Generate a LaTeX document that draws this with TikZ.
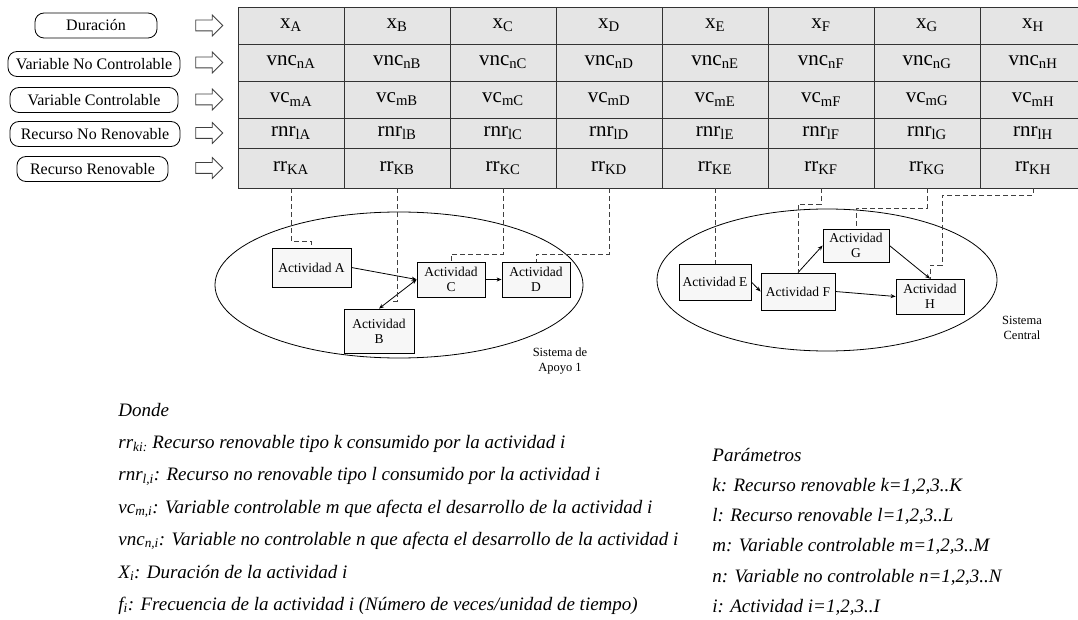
\documentclass[tikz,border=0pt]{standalone}
\usepackage{fontspec}
\setmainfont{Liberation Serif}
\usetikzlibrary{shapes.arrows,arrows.meta}
\tikzstyle{celda}=[draw=black!80, fill=gray!20, minimum width=106pt, minimum height=37pt, inner sep=0pt, font=\fontsize{21}{24}\selectfont]
\tikzstyle{etiqueta}=[draw, rounded corners=9pt, minimum height=25pt, inner sep=0pt, font=\fontsize{16}{18}\selectfont]
\tikzstyle{bloque}=[single arrow, draw=black!75, fill=white, minimum height=27pt, inner xsep=0pt, inner ysep=5pt, single arrow head extend=5pt]
\tikzstyle{actividad}=[draw, fill=gray!6, inner sep=0pt, align=center, font=\fontsize{13.5}{15}\selectfont]
\tikzstyle{enlace}=[draw=black!75, dash pattern=on 5pt off 3pt]
\tikzstyle{flujo}=[-{Stealth[length=5pt,width=4pt]}]
\tikzstyle{texto}=[anchor=base west, inner sep=0pt, font=\fontsize{19}{21}\selectfont\itshape]

\begin{document}
\begin{tikzpicture}[x=1pt, y=-1pt, line width=0.8pt]
\useasboundingbox (0,0) rectangle (1078,620);
% Etiquetas
    \node[etiqueta, minimum width=122pt] (lDur) at (96, 25.5) {Duración};
    \node[etiqueta, minimum width=172pt] (lVnc) at (94, 64) {Variable No Controlable};
    \node[etiqueta, minimum width=168pt] (lVc) at (94, 100) {Variable Controlable};
    \node[etiqueta, minimum width=170pt] (lRnr) at (95, 134) {Recurso No Renovable};
    \node[etiqueta, minimum width=151pt] (lRr) at (92.5, 169) {Recurso Renovable};
    \node[bloque] (fDur) at (206.5, 25.5) {};
    \node[bloque] (fVnc) at (206.5, 62.5) {};
    \node[bloque] (fVc) at (206.5, 99.5) {};
    \node[bloque] (fRnr) at (206.5, 133) {};
    \node[bloque] (fRr) at (206.5, 168) {};
% Tabla
    \node[celda] (xA) at (291, 25.5) {x\textsubscript{A}};
    \node[celda] (xB) at (397, 25.5) {x\textsubscript{B}};
    \node[celda] (xC) at (503, 25.5) {x\textsubscript{C}};
    \node[celda] (xD) at (609, 25.5) {x\textsubscript{D}};
    \node[celda] (xE) at (715, 25.5) {x\textsubscript{E}};
    \node[celda] (xF) at (821, 25.5) {x\textsubscript{F}};
    \node[celda] (xG) at (927, 25.5) {x\textsubscript{G}};
    \node[celda] (xH) at (1033, 25.5) {x\textsubscript{H}};
    \node[celda] (vncA) at (291, 62.5) {vnc\textsubscript{nA}};
    \node[celda] (vncB) at (397, 62.5) {vnc\textsubscript{nB}};
    \node[celda] (vncC) at (503, 62.5) {vnc\textsubscript{nC}};
    \node[celda] (vncD) at (609, 62.5) {vnc\textsubscript{nD}};
    \node[celda] (vncE) at (715, 62.5) {vnc\textsubscript{nE}};
    \node[celda] (vncF) at (821, 62.5) {vnc\textsubscript{nF}};
    \node[celda] (vncG) at (927, 62.5) {vnc\textsubscript{nG}};
    \node[celda] (vncH) at (1033, 62.5) {vnc\textsubscript{nH}};
    \node[celda] (vcA) at (291, 99.5) {vc\textsubscript{mA}};
    \node[celda] (vcB) at (397, 99.5) {vc\textsubscript{mB}};
    \node[celda] (vcC) at (503, 99.5) {vc\textsubscript{mC}};
    \node[celda] (vcD) at (609, 99.5) {vc\textsubscript{mD}};
    \node[celda] (vcE) at (715, 99.5) {vc\textsubscript{mE}};
    \node[celda] (vcF) at (821, 99.5) {vc\textsubscript{mF}};
    \node[celda] (vcG) at (927, 99.5) {vc\textsubscript{mG}};
    \node[celda] (vcH) at (1033, 99.5) {vc\textsubscript{mH}};
    \node[celda, minimum height=30pt] (rnrA) at (291, 133) {rnr\textsubscript{lA}};
    \node[celda, minimum height=30pt] (rnrB) at (397, 133) {rnr\textsubscript{lB}};
    \node[celda, minimum height=30pt] (rnrC) at (503, 133) {rnr\textsubscript{lC}};
    \node[celda, minimum height=30pt] (rnrD) at (609, 133) {rnr\textsubscript{lD}};
    \node[celda, minimum height=30pt] (rnrE) at (715, 133) {rnr\textsubscript{lE}};
    \node[celda, minimum height=30pt] (rnrF) at (821, 133) {rnr\textsubscript{lF}};
    \node[celda, minimum height=30pt] (rnrG) at (927, 133) {rnr\textsubscript{lG}};
    \node[celda, minimum height=30pt] (rnrH) at (1033, 133) {rnr\textsubscript{lH}};
    \node[celda, minimum height=40pt] (rrA) at (291, 168) {rr\textsubscript{KA}};
    \node[celda, minimum height=40pt] (rrB) at (397, 168) {rr\textsubscript{KB}};
    \node[celda, minimum height=40pt] (rrC) at (503, 168) {rr\textsubscript{KC}};
    \node[celda, minimum height=40pt] (rrD) at (609, 168) {rr\textsubscript{KD}};
    \node[celda, minimum height=40pt] (rrE) at (715, 168) {rr\textsubscript{KE}};
    \node[celda, minimum height=40pt] (rrF) at (821, 168) {rr\textsubscript{KF}};
    \node[celda, minimum height=40pt] (rrG) at (927, 168) {rr\textsubscript{KG}};
    \node[celda, minimum height=40pt] (rrH) at (1033, 168) {rr\textsubscript{KH}};
% Sistemas
    \draw (399, 285) ellipse (184 and 73);
    \draw (827, 280) ellipse (170 and 71);
    \node[align=center, font=\fontsize{12.5}{15}\selectfont] (sApoyo) at (560, 361) {Sistema de\\Apoyo 1};
    \node[align=center, font=\fontsize{12.5}{15}\selectfont] (sCentral) at (1022, 328) {Sistema\\Central};
% Actividades
    \node[actividad, minimum width=79pt, minimum height=39pt] (actA) at (311.5, 267.5) {Actividad A};
    \node[actividad, minimum width=70pt, minimum height=44pt] (actB) at (379, 331) {Actividad\\B};
    \node[actividad, minimum width=68pt, minimum height=35pt] (actC) at (451, 279.5) {Actividad\\C};
    \node[actividad, minimum width=68pt, minimum height=35pt] (actD) at (536, 279.5) {Actividad\\D};
    \node[actividad, minimum width=72pt, minimum height=36pt] (actE) at (715, 282) {Actividad E};
    \node[actividad, minimum width=74pt, minimum height=37pt] (actF) at (798, 291.5) {Actividad F};
    \node[actividad, minimum width=66pt, minimum height=33pt] (actG) at (856, 245.5) {Actividad\\G};
    \node[actividad, minimum width=68pt, minimum height=35pt] (actH) at (930, 296.5) {Actividad\\H};
    \draw[flujo] (actA.east) -- (actC.west);
    \draw[{Stealth[length=5pt,width=4pt]}-{Stealth[length=5pt,width=4pt]}] (actB.north) -- (actC.west);
    \draw[flujo] (actC.east) -- (actD.west);
    \draw[flujo] (actE.east) -- (actF.west);
    \draw[flujo] (actF.north) -- (actG.west);
    \draw[flujo] (actG.east) -- (actH.north);
    \draw[flujo] (actF.east) -- (actH.west);
% Enlaces
    \coordinate (finB) at (392, 301);
    \draw[enlace] (rrA.south) -- ++(0, 53) -| (actA.north);
    \draw[enlace] (rrB.south) |- (finB);
    \draw[enlace] (rrC.south) -- ++(0, 66) -| (actC.north);
    \draw[enlace] (rrD.south) -- ++(0, 66) -| (actD.north);
    \draw[enlace] (rrE.south) -- (actE.north);
    \draw[enlace] (rrF.south) -- ++(0, 16) -| (actF.north);
    \draw[enlace] (rrG.south) -- ++(0, 20) -| (actG.north);
    \draw[enlace] (rrH.south) -- ++(0, 7) -- ++(-91, 0) -- ++(0, 70) -| (actH.north);
% Definiciones
    \node[texto] (donde) at (118, 416) {Donde};
    \node[texto] (dRr) at (118, 448) {rr\textsubscript{ki:} Recurso renovable tipo k consumido por la actividad i};
    \node[texto] (dRnr) at (118, 480) {rnr\textsubscript{l,i}: Recurso no renovable tipo l consumido por la actividad i};
    \node[texto] (dVc) at (118, 513) {vc\textsubscript{m,i}: Variable controlable m que afecta el desarrollo de la actividad i};
    \node[texto] (dVnc) at (118, 545) {vnc\textsubscript{n,i}: Variable no controlable n que afecta el desarrollo de la actividad i};
    \node[texto] (dX) at (118, 578) {X\textsubscript{i}: Duración de la actividad i};
    \node[texto] (dF) at (118, 610) {f\textsubscript{i}: Frecuencia de la actividad i (Número de veces/unidad de tiempo)};
% Parametros
    \node[texto] (param) at (712, 461) {Parámetros};
    \node[texto] (pK) at (712, 491) {k: Recurso renovable k=1,2,3..K};
    \node[texto] (pL) at (712, 521) {l: Recurso renovable l=1,2,3..L};
    \node[texto] (pM) at (712, 551) {m: Variable controlable m=1,2,3..M};
    \node[texto] (pN) at (712, 582) {n: Variable no controlable n=1,2,3..N};
    \node[texto] (pI) at (712, 612) {i: Actividad i=1,2,3..I};
\end{tikzpicture}
\end{document}
